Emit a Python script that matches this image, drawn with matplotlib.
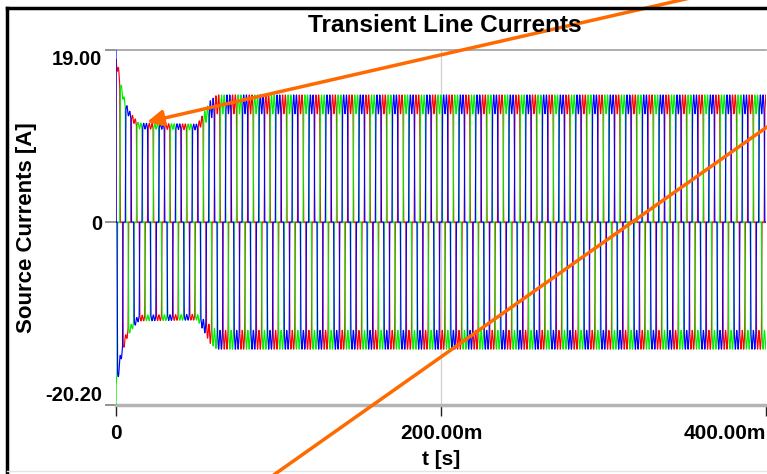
import numpy as np
import matplotlib
matplotlib.use("Agg")
import matplotlib.pyplot as plt
from matplotlib.lines import Line2D

plt.rcParams['font.family'] = ['Liberation Sans', 'DejaVu Sans']

# --- drive / waveform parameters -------------------------------------------
freq_hz = 97.5            # fundamental of the line currents
phase0_deg = 183.0        # electrical angle of phase "blue" at t = 0
phase_shift_deg = {"red": -120.0, "green": -240.0, "blue": 0.0}
line_colors = {"red": "#ff0000", "green": "#00ee00", "blue": "#0000ff"}

# peak amplitude envelope (time in ms, current in A)
env_t_ms = [0.0, 1.2, 2.5, 4.5, 5.5, 7.6, 10.7, 14.0, 50.0, 54.0, 58.0, 62.0, 400.0]
env_amp = [17.5, 17.0, 15.2, 13.8, 13.0, 12.1, 11.3, 10.6, 10.5, 11.4, 12.4, 13.0, 13.0]

# depth of the six-pulse ripple on the conduction blocks
rip_t_ms = [0.0, 50.0, 58.0, 400.0]
rip_depth = [0.03, 0.03, 0.08, 0.08]

# values at the switching instant t = 0
start_values = {"red": 0.0, "green": -20.2, "blue": 19.0}

y_ticks = [-20.2, 0.0, 19.0]
y_tick_labels = ["-20.20", "0", "19.00"]
x_ticks = [0.0, 0.2, 0.4]
x_tick_labels = ["0", "200.00m", "400.00m"]


def six_pulse(theta_deg, ripple):
    """120-degree conduction block current with six-pulse ripple."""
    th = np.mod(theta_deg, 360.0)
    d_top = np.abs(np.mod(th - 90.0 + 180.0, 360.0) - 180.0)
    d_bot = np.abs(np.mod(th - 270.0 + 180.0, 360.0) - 180.0)
    edge, ramp = 60.0, 6.0
    up = np.clip((edge + ramp - d_top) / (2 * ramp), 0, 1)
    dn = np.clip((edge + ramp - d_bot) / (2 * ramp), 0, 1)
    hump = 1.0 - ripple * np.cos(np.radians(6.0 * (th - 90.0)))
    return (up - dn) * hump


t = np.arange(0.0, 0.4005, 2e-5)
amp = np.interp(t * 1e3, env_t_ms, env_amp)
rip = np.interp(t * 1e3, rip_t_ms, rip_depth)
theta = phase0_deg + 360.0 * freq_hz * t

W, H = 767, 474
fig = plt.figure(figsize=(W / 100, H / 100), dpi=100)
fig.patch.set_facecolor("white")

ax = fig.add_axes([116 / W, (H - 405) / H, (766 - 116) / W, (405 - 50) / H])
ax.set_facecolor("white")

for name in ["red", "green", "blue"]:
    i = amp * six_pulse(theta + phase_shift_deg[name], rip)
    i[0] = start_values[name]
    ax.plot(t, i, color=line_colors[name], lw=0.85, zorder=3)

ax.set_xlim(0, 0.4)
ax.set_ylim(-20.2, 19.0)

# grid lines
ax.axhline(0, color="#9a9a9a", lw=1.0, zorder=2)
ax.axvline(0.2, color="#d4d4d4", lw=1.0, zorder=1)

for s in ["left", "right"]:
    ax.spines[s].set_visible(False)
ax.spines["top"].set_color("#a0a0a0")
ax.spines["top"].set_linewidth(1.2)
ax.spines["bottom"].set_color("#b4b4b4")
ax.spines["bottom"].set_linewidth(2.5)

ax.set_yticks(y_ticks)
ax.set_yticklabels(y_tick_labels, fontsize=14.5, fontweight="bold")
ax.set_xticks(x_ticks)
ax.set_xticklabels(x_tick_labels, fontsize=15, fontweight="bold")
ax.tick_params(axis="y", length=8, width=1.2, color="#808080", pad=2)
ax.tick_params(axis="x", length=8, width=1.0, color="#202020", pad=6)
ylabs = ax.get_yticklabels()
ylabs[0].set_va("bottom")
ylabs[2].set_va("top")
xlabs = ax.get_xticklabels()
xlabs[2].set_ha("right")

ax.set_xlabel("t [s]", fontsize=15, fontweight="bold", labelpad=5)
ax.set_ylabel("Source Currents [A]", fontsize=16, fontweight="bold")
ax.yaxis.set_label_coords(-0.1215, 0.5)

fig.text(445 / W, (H - 25) / H, "Transient Line Currents", ha="center",
         va="center", fontsize=17.6, fontweight="bold")

# panel frame
fig.add_artist(Line2D([7 / W, 1.0], [(H - 8) / H, (H - 8) / H], color="black", lw=2.5))
fig.add_artist(Line2D([7 / W, 7 / W], [0, (H - 8) / H], color="black", lw=2.5))
fig.add_artist(Line2D([7 / W, 1.0], [3 / H, 3 / H], color="#e4e4e4", lw=1.0))

# orange pointers
orange = "#ff6a00"
ax.annotate("", xy=(147 / W, (H - 122) / H), xycoords="figure fraction",
            xytext=(690 / W, (H + 2) / H), textcoords="figure fraction",
            arrowprops=dict(arrowstyle="-|>", color=orange, lw=2.5,
                            mutation_scale=24, shrinkA=0, shrinkB=0),
            zorder=10, annotation_clip=False)
fig.add_artist(Line2D([275 / W, 1.0], [0, (H - 127) / H], color=orange, lw=2.5))

fig.savefig("out.png", dpi=100, facecolor="white")
